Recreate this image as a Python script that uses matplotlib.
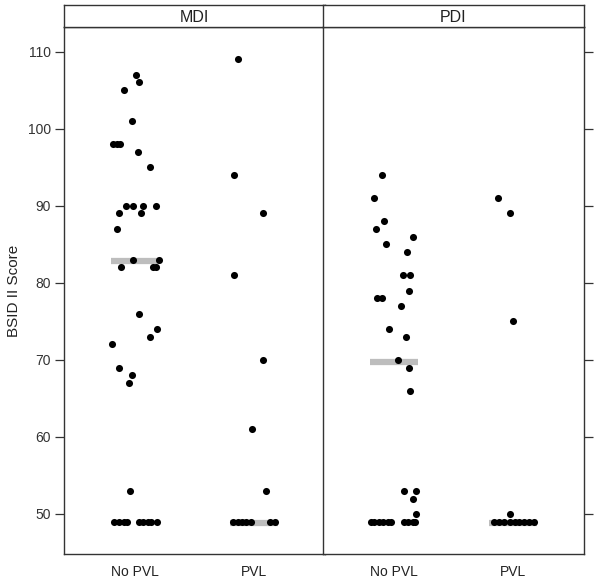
import numpy as np
import matplotlib
matplotlib.use("Agg")
import matplotlib.pyplot as plt

plt.rcParams["font.family"] = ["Liberation Sans", "DejaVu Sans"]

groups = ["No PVL", "PVL"]
panels = ["MDI", "PDI"]

# scores, with the horizontal jitter seen in the plot
mdi_nopvl = [107, 106, 105, 101, 98, 98, 98, 97, 95, 90, 90, 90, 90, 89, 89, 87,
             83, 83, 82, 82, 82, 76, 74, 73, 72, 69, 68, 67, 53,
             49, 49, 49, 49, 49, 49, 49, 49, 49]
mdi_nopvl_jit = [0.01, 0.04, -0.09, -0.02, -0.18, -0.15, -0.12, 0.03, 0.13,
                 -0.07, -0.01, 0.07, 0.18, -0.13, 0.05, -0.15,
                 -0.01, 0.20, -0.11, 0.15, 0.18, 0.04, 0.19, 0.13, -0.19, -0.13, -0.02, -0.05, -0.04,
                 -0.17, -0.13, -0.09, -0.06, 0.04, 0.07, 0.11, 0.14, 0.19]

mdi_pvl = [109, 94, 89, 81, 70, 61, 53, 49, 49, 49, 49, 49, 49, 49]
mdi_pvl_jit = [-0.14, -0.17, 0.07, -0.17, 0.07, -0.02, 0.10,
               -0.18, -0.14, -0.10, -0.07, -0.03, 0.13, 0.17]

pdi_nopvl = [94, 91, 88, 87, 86, 85, 84, 81, 81, 79, 78, 78, 77, 74, 73, 70, 69, 66,
             53, 53, 52, 50, 49, 49, 49, 49, 49, 49, 49, 49, 49, 49]
pdi_nopvl_jit = [-0.10, -0.16, -0.08, -0.15, 0.16, -0.06, 0.11, 0.08, 0.14, 0.13,
                 -0.14, -0.10, 0.06, -0.04, 0.10, 0.04, 0.13, 0.14,
                 0.09, 0.19, 0.16, 0.19, -0.19, -0.16, -0.12, -0.09, -0.05, -0.02,
                 0.09, 0.12, 0.16, 0.18]

pdi_pvl = [91, 89, 75, 50, 49, 49, 49, 49, 49, 49, 49, 49, 49]
pdi_pvl_jit = [-0.13, -0.03, 0.00, -0.03, -0.16, -0.12, -0.08, -0.03, 0.01,
               0.05, 0.09, 0.13, 0.17]

# median bars as drawn
medians = {"MDI": [82.8, 48.8], "PDI": [69.7, 48.8]}

data = {
    "MDI": [(mdi_nopvl, mdi_nopvl_jit), (mdi_pvl, mdi_pvl_jit)],
    "PDI": [(pdi_nopvl, pdi_nopvl_jit), (pdi_pvl, pdi_pvl_jit)],
}

fig = plt.figure(figsize=(6.0, 5.82), dpi=100)
frame = "#333333"
lefts = [64 / 600, 323 / 600]
w = 261 / 600
bottom = 1 - 554 / 582
h = (554 - 27) / 582
strip_h = 22 / 582

for i, name in enumerate(panels):
    ax = fig.add_axes([lefts[i], bottom, w, h])
    for j, (vals, jit) in enumerate(data[name]):
        ax.plot([j + 1 - 0.2, j + 1 + 0.2], [medians[name][j]] * 2,
                color="#bdbdbd", linewidth=4.5, solid_capstyle="butt", zorder=1)
        ax.scatter(np.array(jit) + j + 1, vals, s=26, color="black",
                   linewidths=0, zorder=2)
    ax.set_xlim(0.41, 2.59)
    ax.set_ylim(44.8, 113.2)
    ax.set_xticks([1, 2])
    ax.set_xticklabels(groups, fontsize=10, color="#222222")
    ax.tick_params(axis="x", length=0, pad=8)
    ax.set_yticks(range(50, 111, 10))
    if i == 0:
        ax.tick_params(axis="y", direction="out", length=6.5, width=0.9,
                       color=frame, labelsize=10, labelcolor="#333333", pad=3)
        ax.set_ylabel("BSID II Score", fontsize=11, color="#222222", labelpad=5)
    else:
        ax.yaxis.tick_right()
        ax.tick_params(axis="y", direction="out", length=6.5, width=0.9,
                       color=frame, labelright=False)
    for s in ax.spines.values():
        s.set_color(frame)
        s.set_linewidth(1)

    sax = fig.add_axes([lefts[i], bottom + h, w, strip_h])
    sax.set_xticks([])
    sax.set_yticks([])
    for s in sax.spines.values():
        s.set_color(frame)
        s.set_linewidth(1)
    sax.text(0.5, 0.45, name, ha="center", va="center", fontsize=11.5,
             color="#222222", transform=sax.transAxes)

fig.savefig("out.png", dpi=100)
